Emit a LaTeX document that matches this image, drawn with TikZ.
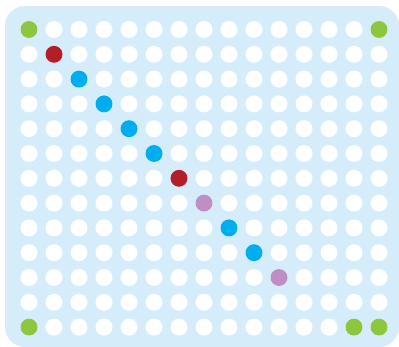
\documentclass[tikz,border=0pt]{standalone}
\definecolor{panel}{HTML}{D5EDFA}
\definecolor{dotgreen}{HTML}{8DC63F}
\definecolor{dotred}{HTML}{B31F29}
\definecolor{dotblue}{HTML}{00AEEF}
\definecolor{dotpurple}{HTML}{BF8EC3}
\tikzset{
  dot/.style={circle, fill=white, draw=none, minimum size=17pt, inner sep=0pt},
  gdot/.style={dot, fill=dotgreen},
  rdot/.style={dot, fill=dotred},
  bdot/.style={dot, fill=dotblue},
  pdot/.style={dot, fill=dotpurple}
}
\begin{document}
\begin{tikzpicture}[x=1pt,y=-1pt]
\useasboundingbox (0,0) rectangle (399,347);
\fill[panel, rounded corners=20pt] (5,6) rectangle (399,347);
\foreach \i in {0,...,14} {
  \foreach \j in {0,...,12} {
    \node[dot] (c-\i-\j) at (29+25*\i, 29.5+24.8*\j) {};
  }
}
% colored dots
\node[gdot] (g1) at (c-0-0) {};
\node[gdot] (g2) at (c-14-0) {};
\node[gdot] (g3) at (c-0-12) {};
\node[gdot] (g4) at (c-13-12) {};
\node[gdot] (g5) at (c-14-12) {};
\node[rdot] (r1) at (c-1-1) {};
\node[rdot] (r2) at (c-6-6) {};
\node[bdot] (b1) at (c-2-2) {};
\node[bdot] (b2) at (c-3-3) {};
\node[bdot] (b3) at (c-4-4) {};
\node[bdot] (b4) at (c-5-5) {};
\node[bdot] (b5) at (c-8-8) {};
\node[bdot] (b6) at (c-9-9) {};
\node[pdot] (p1) at (c-7-7) {};
\node[pdot] (p2) at (c-10-10) {};
\end{tikzpicture}
\end{document}
